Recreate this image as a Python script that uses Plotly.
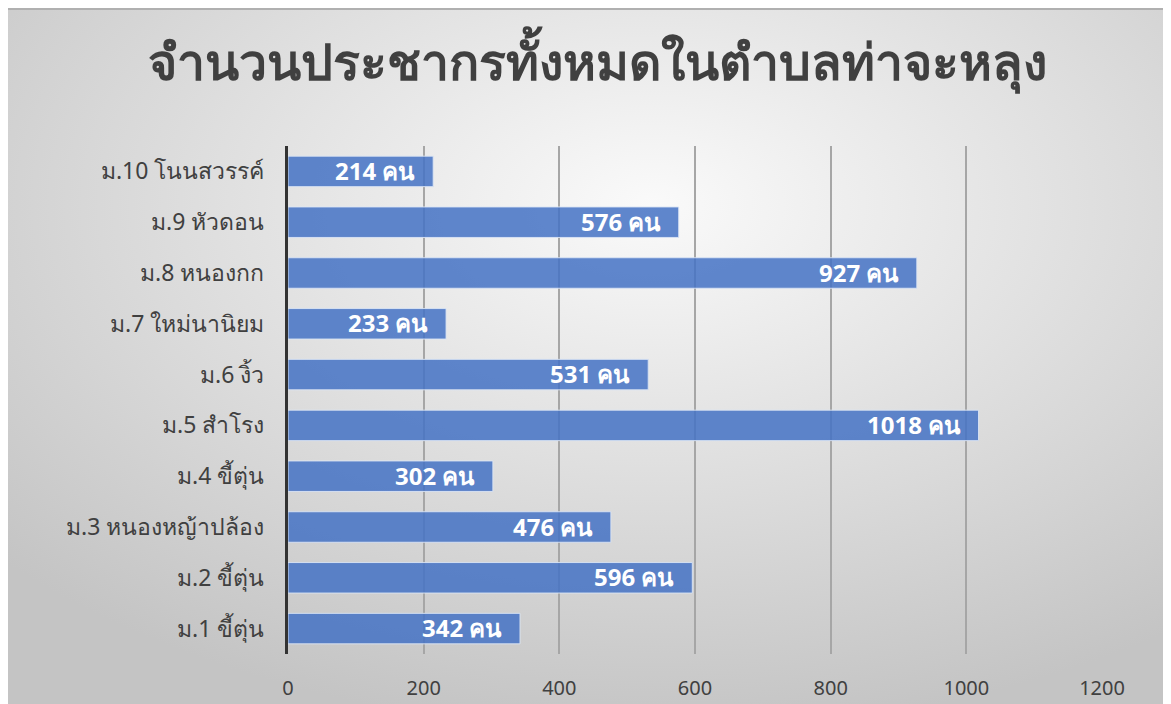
import plotly.graph_objects as go

villages = ["ม.10 โนนสวรรค์", "ม.9 หัวดอน", "ม.8 หนองกก", "ม.7 ใหม่นานิยม", "ม.6 งิ้ว",
            "ม.5 สำโรง", "ม.4 ขี้ตุ่น", "ม.3 หนองหญ้าปล้อง", "ม.2 ขี้ตุ่น", "ม.1 ขี้ตุ่น"]
population = [214, 576, 927, 233, 531, 1018, 302, 476, 596, 342]
x_ticks = [0, 200, 400, 600, 800, 1000, 1200]
title = "จำนวนประชากรทั้งหมดในตำบลท่าจะหลุง"

# reverse so that ม.10 ends up on top
villages_r = villages[::-1]
population_r = population[::-1]

# plot area in pixels (used to place the paper-wide background)
L, R, T, B = 280, 77, 138, 58
PW, PH = 1171 - L - R, 704 - T - B

bg_svg = (
    "data:image/svg+xml;utf8,"
    "<svg xmlns='http://www.w3.org/2000/svg' width='1171' height='704' preserveAspectRatio='none'>"
    "<defs><radialGradient id='g' cx='55%' cy='28%' r='75%'>"
    "<stop offset='0%' stop-color='%23fafafa'/>"
    "<stop offset='100%' stop-color='%23c4c4c4'/>"
    "</radialGradient></defs>"
    "<rect width='1171' height='704' fill='url(%23g)'/></svg>"
)

fig = go.Figure()
fig.add_trace(go.Bar(
    y=villages_r,
    x=population_r,
    orientation="h",
    marker=dict(color="rgba(68,114,196,0.85)",
                line=dict(color="rgba(220,230,245,0.9)", width=1)),
    hoverinfo="skip",
))

for v, p in zip(villages_r, population_r):
    fig.add_annotation(
        x=p, y=v, xref="x", yref="y",
        text=f"<b>{p} คน</b>",
        showarrow=False, xanchor="right", xshift=-16, yshift=1,
        font=dict(size=24, color="white", family="Noto Sans, sans-serif"),
    )

fig.update_layout(
    width=1171, height=704,
    margin=dict(l=L, r=R, t=T, b=B),
    paper_bgcolor="white",
    plot_bgcolor="rgba(0,0,0,0)",
    bargap=0.4,
    showlegend=False,
    title=dict(text=f"<b>{title}</b>", x=589 / 1171, xanchor="center", y=1 - 54 / 704, yanchor="middle",
               font=dict(size=50, color="#404040")),
    font=dict(family="Noto Sans, sans-serif", color="#404040"),
    images=[dict(source=bg_svg, xref="paper", yref="paper", x=-L / PW, y=1 + T / PH,
                 sizex=1171 / PW, sizey=704 / PH, xanchor="left", yanchor="top",
                 sizing="stretch", layer="below")],
    shapes=[dict(type="line", xref="paper", yref="paper", x0=-L / PW, x1=1 + R / PW,
                 y0=1 + (T - 1) / PH, y1=1 + (T - 1) / PH, line=dict(color="#b0b0b0", width=2))],
)

fig.update_xaxes(
    range=[0, 1200], tickvals=x_ticks, showgrid=True, gridcolor="#a6a6a6", gridwidth=1.5,
    zeroline=False, showline=False, tickfont=dict(size=20, color="#404040"),
    ticklabelstandoff=20, automargin=False, fixedrange=True,
)
fig.update_yaxes(
    showline=True, linecolor="#333333", linewidth=3, showgrid=False,
    tickfont=dict(size=23, color="#404040"), ticklabelstandoff=16, automargin=False,
    fixedrange=True,
)

fig.write_html("out.html")
